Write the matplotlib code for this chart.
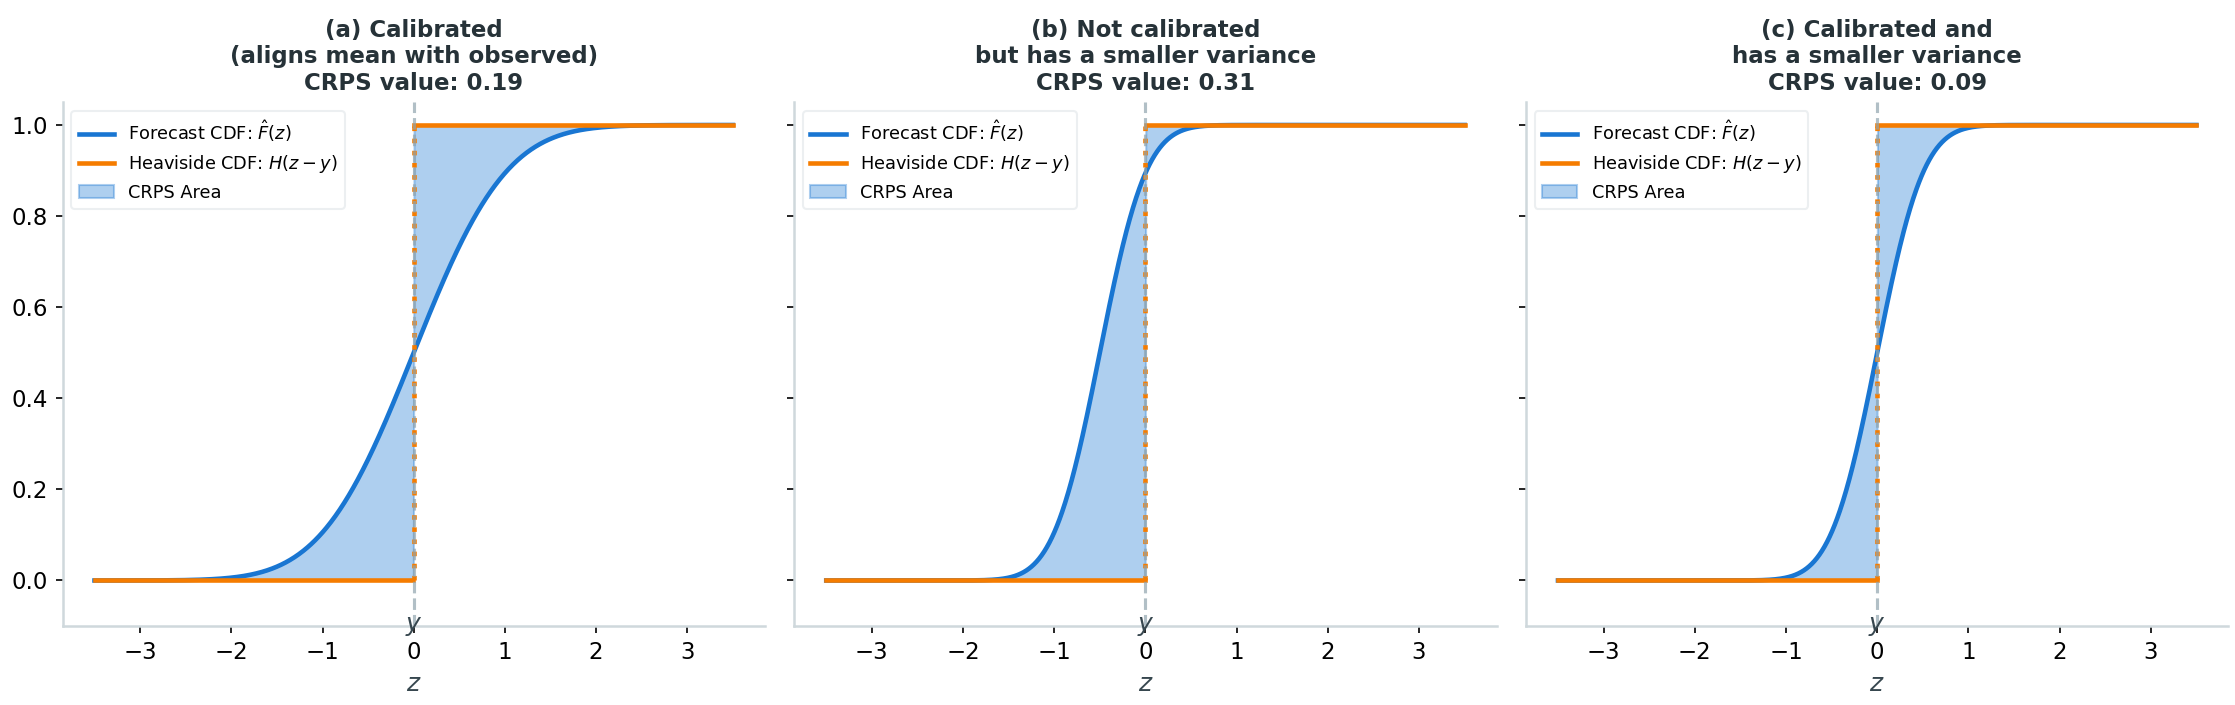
import math

import numpy as np
import matplotlib
matplotlib.use('Agg')
import matplotlib.pyplot as plt

# forecast distributions (normal)
titles = ['(a) Calibrated\n(aligns mean with observed)',
          '(b) Not calibrated\nbut has a smaller variance',
          '(c) Calibrated and\nhas a smaller variance']
forecast_means = [0.0, -0.5, 0.0]
forecast_sds = [0.8, 0.4, 0.4]
crps_values = [0.19, 0.31, 0.09]
observed_y = 0.0
z_range = (-3.5, 3.5)

BLUE = '#1976D2'
ORANGE = '#F57C00'
TITLE_COL = '#263238'
SPINE_COL = '#CFD8DC'
VLINE_COL = '#90A4AE'

erf = np.vectorize(math.erf)


def normal_cdf(z, mu, sd):
    return 0.5 * (1 + erf((z - mu) / (sd * math.sqrt(2))))


z = np.linspace(z_range[0], z_range[1], 1000)

fig, axes = plt.subplots(1, 3, figsize=(14.9, 4.7), dpi=150, sharey=True)

for ax, title, mu, sd, crps in zip(axes, titles, forecast_means, forecast_sds, crps_values):
    F = normal_cdf(z, mu, sd)
    H = (z >= observed_y).astype(float)

    ax.fill_between(z, F, H, facecolor=BLUE, alpha=0.35, edgecolor=BLUE,
                    linewidth=1, label='CRPS Area')
    ax.plot(z, F, color=BLUE, lw=2.2, label=r'Forecast CDF: $\hat{F}(z)$')
    left = z < observed_y
    ax.plot(z[left], H[left], color=ORANGE, lw=2.2,
            label=r'Heaviside CDF: $H(z-y)$')
    ax.plot(z[~left], H[~left], color=ORANGE, lw=2.2)
    ax.plot([observed_y, observed_y], [0, 1], color=ORANGE, lw=2.2, ls=':')
    ax.axvline(observed_y, color=VLINE_COL, lw=1.5, ls='--', alpha=0.7)

    ax.set_ylim(-0.1, 1.05)
    ax.text(observed_y, -0.1, '$y$', ha='center', va='center',
            fontsize=12, color='#37474F')
    ax.set_xlabel('$z$', fontsize=12, color='#37474F')
    ax.set_title(f'{title}\nCRPS value: {crps:.2f}', fontsize=11,
                 fontweight='bold', color=TITLE_COL)

    for s in ['top', 'right']:
        ax.spines[s].set_visible(False)
    for s in ['left', 'bottom']:
        ax.spines[s].set_color(SPINE_COL)
        ax.spines[s].set_linewidth(1.2)
    ax.tick_params(labelsize=11)

    handles, labels = ax.get_legend_handles_labels()
    order = [1, 2, 0]
    leg = ax.legend([handles[i] for i in order], [labels[i] for i in order],
                    loc='upper left', fontsize=8.5, framealpha=1)
    leg.get_frame().set_edgecolor('#ECEFF1')

fig.subplots_adjust(left=0.028, right=0.997, top=0.855, bottom=0.112, wspace=0.042)
fig.savefig('out.png', dpi=150)
